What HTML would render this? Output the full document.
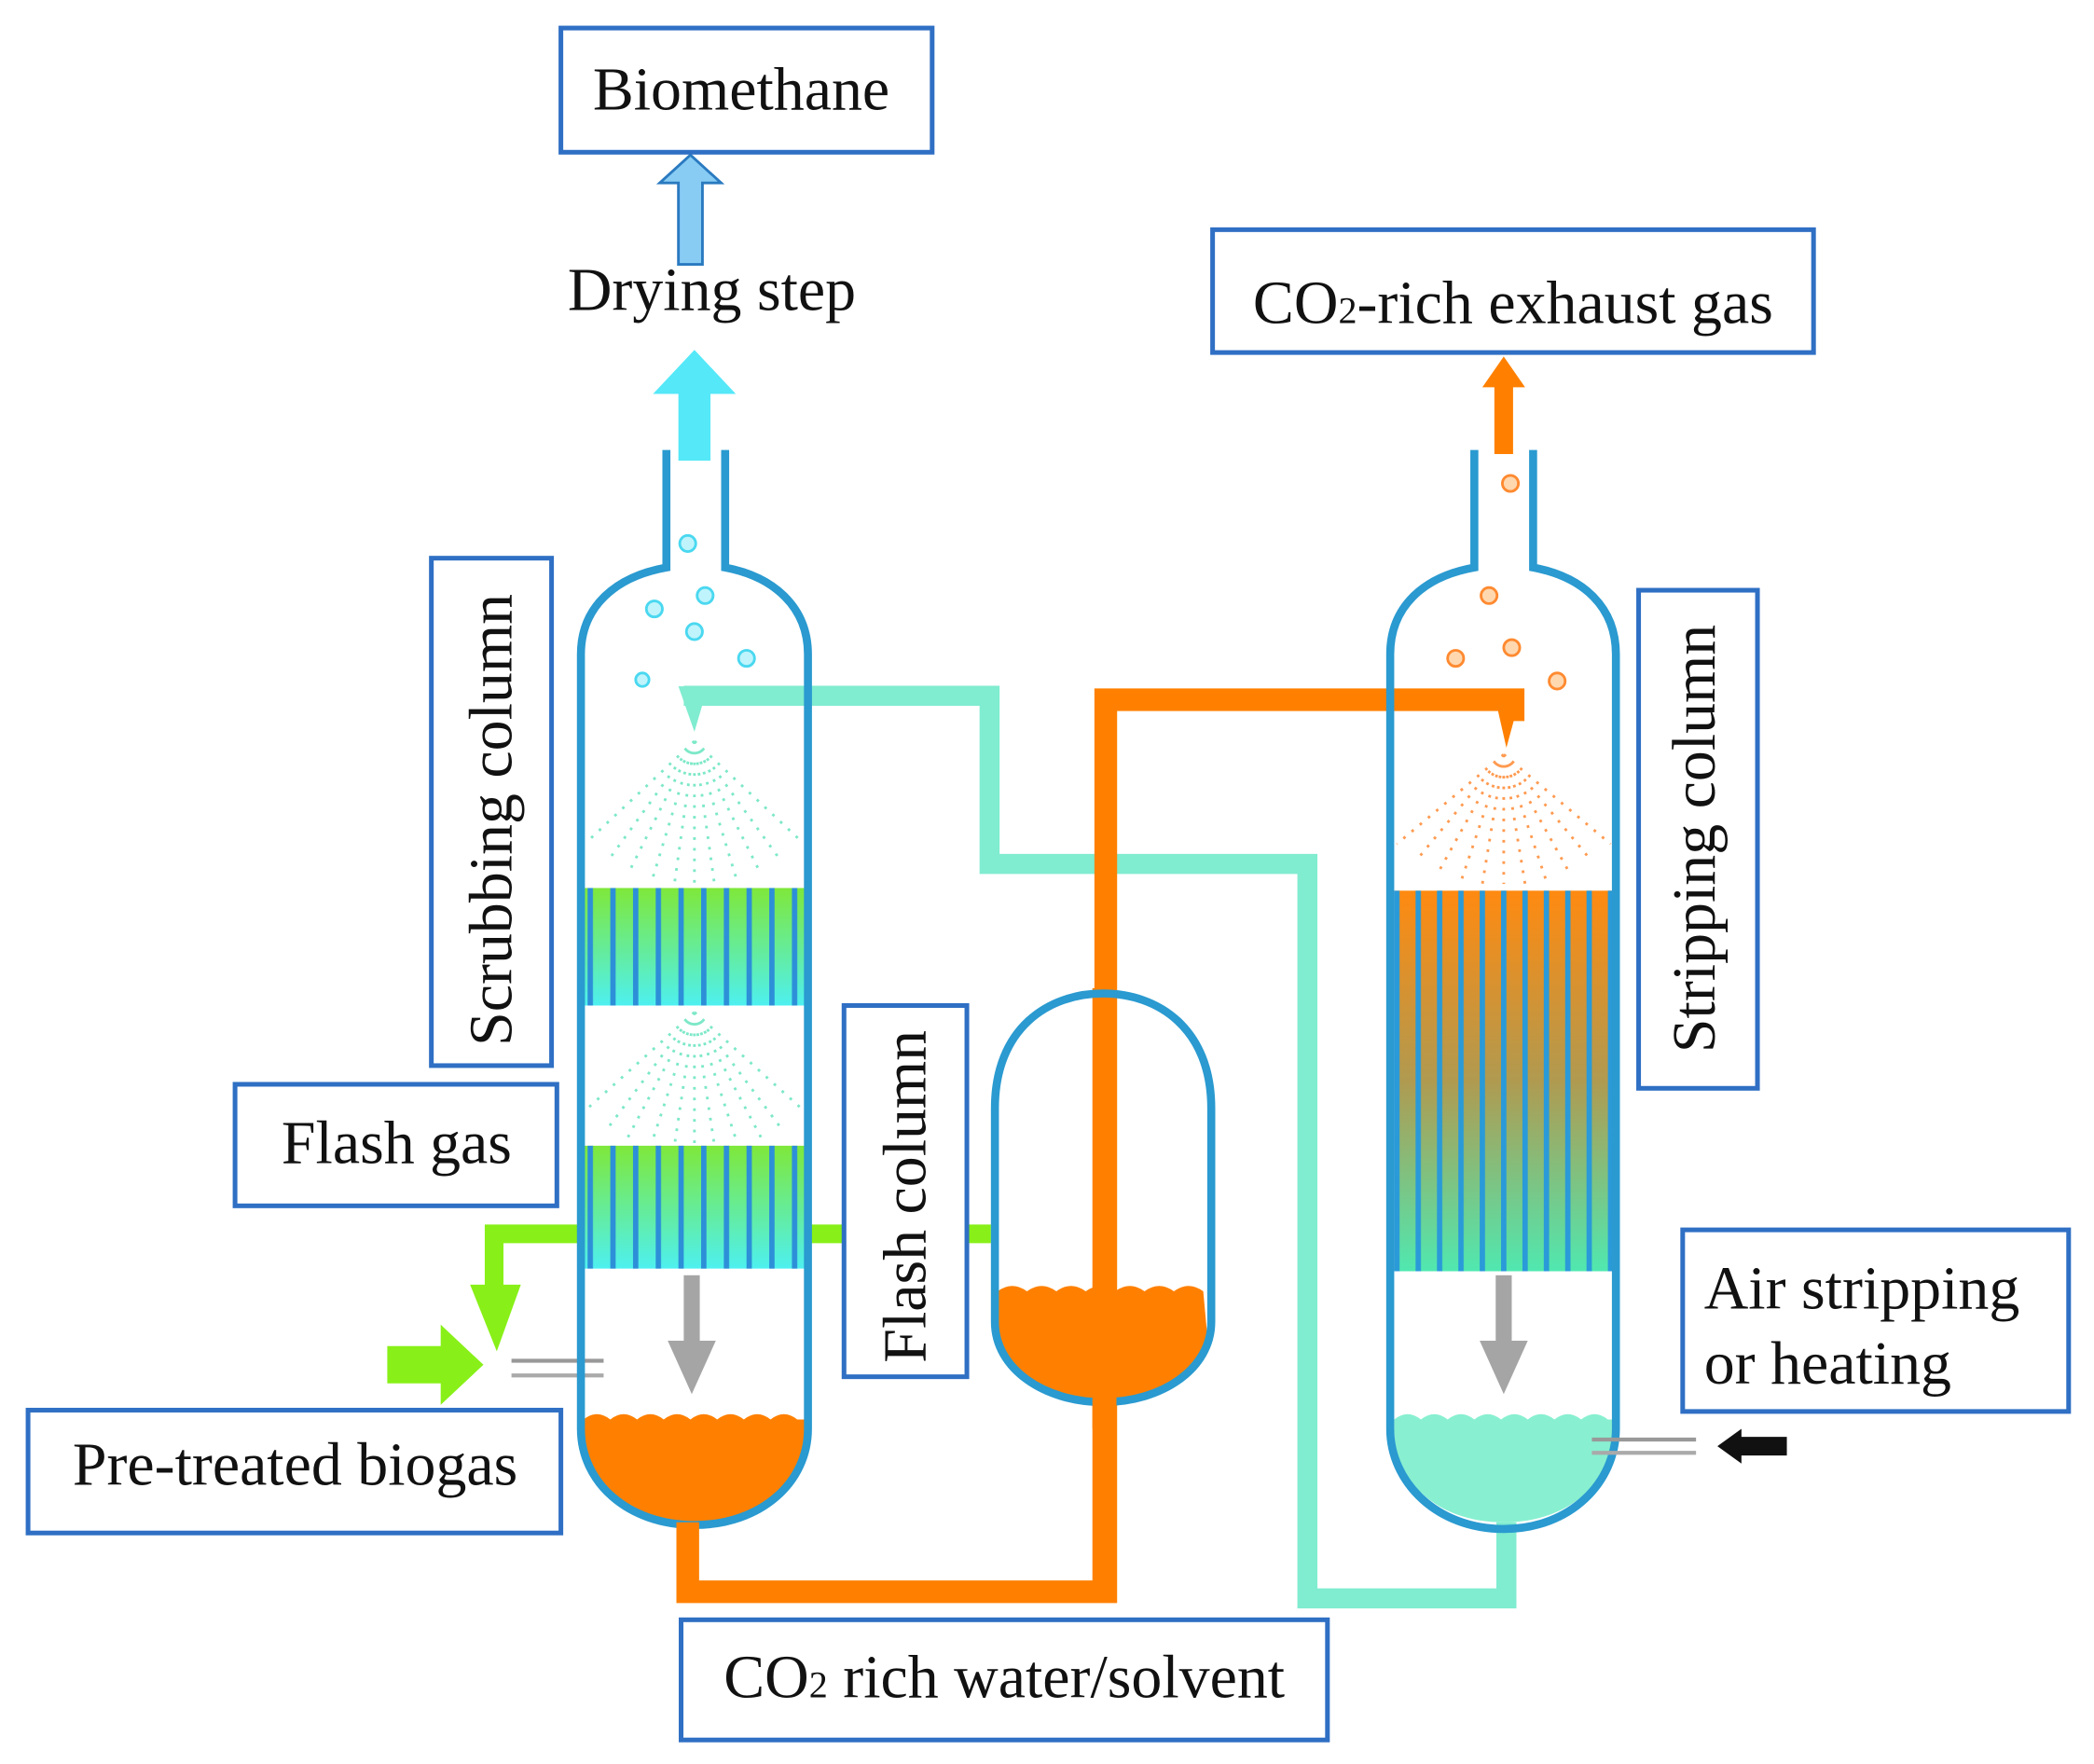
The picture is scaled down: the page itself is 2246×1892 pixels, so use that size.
<!DOCTYPE html>
<html><head><meta charset="utf-8"><style>
html,body{margin:0;padding:0;background:#fff}
svg{display:block}
text{font-family:"Liberation Serif",serif;fill:#111}
</style></head><body>
<svg width="2246" height="1892" viewBox="0 0 1568 1321" preserveAspectRatio="none" xmlns="http://www.w3.org/2000/svg">
<defs>
<linearGradient id="g2" x1="0" y1="0" x2="0" y2="1"><stop offset="0" stop-color="#7fe83a"/><stop offset="1" stop-color="#4ef0f0"/></linearGradient>
<linearGradient id="g3" x1="0" y1="0" x2="0" y2="1"><stop offset="0" stop-color="#ff8a10"/><stop offset="0.5" stop-color="#b09a50"/><stop offset="1" stop-color="#50e8b0"/></linearGradient>
<pattern id="st1" x="440" y="0" width="17" height="10" patternUnits="userSpaceOnUse"><rect x="0" y="0" width="4" height="10" fill="#2d8fd8"/></pattern>
<pattern id="st2" x="1044" y="0" width="16" height="10" patternUnits="userSpaceOnUse"><rect x="0" y="0" width="4" height="10" fill="#2a9ad8"/></pattern>
</defs>

<polyline points="742,924 370,924 370,975" fill="none" stroke="#88f018" stroke-width="14"/>
<polygon points="352,962 390,962 372,1012" fill="#88f018"/>
<polygon points="290,1008 330,1008 330,992 362,1022 330,1052 330,1036 290,1036" fill="#88f018"/>
<line x1="383" y1="1019" x2="452" y2="1019" stroke="#999" stroke-width="3"/>
<line x1="383" y1="1030" x2="452" y2="1030" stroke="#aaa" stroke-width="3"/>

<polyline points="512,521 741,521 741,647 979,647 979,1197 1128,1197 1128,1140" fill="none" stroke="#80ecd0" stroke-width="15"/>

<g>
<rect x="437" y="665" width="166" height="88" fill="url(#g2)"/>
<rect x="437" y="665" width="166" height="88" fill="url(#st1)"/>
<rect x="437" y="858" width="166" height="92" fill="url(#g2)"/>
<rect x="437" y="858" width="166" height="92" fill="url(#st1)"/>
<path d="M437,1063 q10,-8 20,0 q10,-8 20,0 q10,-8 20,0 q10,-8 20,0 q10,-8 20,0 q10,-8 20,0 q10,-8 20,0 q10,-8 20,0 l6,0 L603,1070 C603,1110 570,1140 520,1140 C470,1140 437,1110 437,1070 Z" fill="#ff8000"/>
<path d="M499,337 L499,425 C460,432 435,455 435,490 L435,1070 C435,1110 470,1142 520,1142 C570,1142 605,1110 605,1070 L605,490 C605,455 580,432 543,425 L543,337" fill="none" stroke="#2a9ad0" stroke-width="6"/>
</g>
<polyline points="515,1140 515,1192 828,1192 828,524 1133,524 1133,540" fill="none" stroke="#ff8000" stroke-width="17"/>
<polygon points="508,514 530,514 520,548" fill="#80ecd0"/>
<polygon points="1118,516 1140,516 1128,560" fill="#ff8000"/>

<g stroke="#7de8c8" stroke-width="2" stroke-dasharray="2,6" fill="none">
<path d="M520,555 L440,630 M520,555 L455,645 M520,555 L470,655 M520,555 L488,660 M520,555 L505,662 M520,555 L520,662 M520,555 L535,662 M520,555 L552,660 M520,555 L570,655 M520,555 L585,645 M520,555 L600,630"/>
<path d="M520,758 L440,830 M520,758 L455,845 M520,758 L470,852 M520,758 L488,856 M520,758 L505,858 M520,758 L520,858 M520,758 L535,858 M520,758 L552,856 M520,758 L570,852 M520,758 L585,845 M520,758 L600,830"/>
</g>
<g stroke="#ff9a50" stroke-width="2" stroke-dasharray="2,6" fill="none">
<path d="M1126,565 L1046,632 M1126,565 L1060,645 M1126,565 L1076,655 M1126,565 L1094,660 M1126,565 L1110,662 M1126,565 L1126,662 M1126,565 L1142,662 M1126,565 L1158,660 M1126,565 L1176,655 M1126,565 L1192,645 M1126,565 L1206,632"/>
</g>

<g fill="#bff4fc" stroke="#4ad8f0" stroke-width="2">
<circle cx="515" cy="407" r="6"/><circle cx="490" cy="456" r="6"/><circle cx="528" cy="446" r="6"/><circle cx="520" cy="473" r="6"/><circle cx="559" cy="493" r="6"/><circle cx="481" cy="509" r="5"/>
</g>
<g fill="#ffd8b0" stroke="#ff8a30" stroke-width="2">
<circle cx="1131" cy="362" r="6"/><circle cx="1115" cy="446" r="6"/><circle cx="1132" cy="485" r="6"/><circle cx="1090" cy="493" r="6"/><circle cx="1166" cy="510" r="6"/>
</g>

<rect x="512" y="955" width="12" height="52" fill="#a5a5a5"/><polygon points="500,1004 536,1004 518,1044" fill="#a5a5a5"/>
<rect x="1120" y="955" width="12" height="52" fill="#a5a5a5"/><polygon points="1108,1004 1144,1004 1126,1044" fill="#a5a5a5"/>

<rect x="1044" y="667" width="164" height="285" fill="url(#g3)"/>
<rect x="1044" y="667" width="164" height="285" fill="url(#st2)"/>
<path d="M1044,1063 q10,-8 20,0 q10,-8 20,0 q10,-8 20,0 q10,-8 20,0 q10,-8 20,0 q10,-8 20,0 q10,-8 20,0 q10,-8 20,0 l4,0 L1208,1070 C1208,1110 1175,1140 1126,1140 C1077,1140 1044,1110 1044,1070 Z" fill="#88f0d0"/>
<path d="M1104,337 L1104,425 C1065,432 1041,455 1041,490 L1041,1070 C1041,1110 1076,1145 1126,1145 C1176,1145 1210,1110 1210,1070 L1210,490 C1210,455 1186,432 1148,425 L1148,337" fill="none" stroke="#2a9ad0" stroke-width="6"/>
<line x1="1192" y1="1078" x2="1270" y2="1078" stroke="#999" stroke-width="3"/>
<line x1="1192" y1="1088" x2="1270" y2="1088" stroke="#aaa" stroke-width="3"/>
<polygon points="1338,1076 1304,1076 1304,1070 1286,1083 1304,1096 1304,1090 1338,1090" fill="#111"/>

<path d="M747,967 q11,-8 22,0 q11,-8 22,0 q11,-8 22,0 q11,-8 22,0 q11,-8 22,0 q11,-8 22,0 q11,-8 22,0 L904,1000 C904,1030 870,1050 826,1050 C782,1050 747,1030 747,1000 Z" fill="#ff8000"/>
<rect x="818" y="740" width="18" height="330" fill="#ff8000"/>
<path d="M745,830 C745,770 785,744 826,744 C867,744 907,770 907,830 L907,990 C907,1025 870,1050 826,1050 C782,1050 745,1025 745,990 Z" fill="none" stroke="#2a9ad0" stroke-width="6"/>
<rect x="818" y="1044" width="18" height="150" fill="#ff8000"/>

<polygon points="508,345 532,345 532,295 551,295 520,262 489,295 508,295" fill="#55e8f8"/>
<polygon points="508,198 526,198 526,137 540,137 517,116 494,137 508,137" fill="#88ccf4" stroke="#2a7ac0" stroke-width="2"/>
<polygon points="1119,340 1133,340 1133,290 1142,290 1126,267 1110,290 1119,290" fill="#ff8000"/>

<g fill="#fff" stroke="#2f6fc4" stroke-width="3.5">
<rect x="420" y="21" width="278" height="93"/>
<rect x="908" y="172" width="450" height="92"/>
<rect x="323" y="418" width="90" height="380"/>
<rect x="176" y="812" width="241" height="91"/>
<rect x="21" y="1056" width="399" height="92"/>
<rect x="632" y="753" width="92" height="278"/>
<rect x="510" y="1213" width="484" height="90"/>
<rect x="1227" y="442" width="89" height="373"/>
<rect x="1260" y="921" width="289" height="136"/>
</g>

<g font-size="46">
<text x="555" y="82" text-anchor="middle">Biomethane</text>
<text x="533" y="232" text-anchor="middle">Drying step</text>
<text x="1133" y="242" text-anchor="middle">CO<tspan font-size="28">2</tspan>-rich exhaust gas</text>
<text x="297" y="871" text-anchor="middle">Flash gas</text>
<text x="221" y="1112" text-anchor="middle">Pre-treated biogas</text>
<text x="752" y="1271" text-anchor="middle">CO<tspan font-size="28">2</tspan> rich water/solvent</text>
<text x="1276" y="980">Air stripping</text>
<text x="1276" y="1036">or heating</text>
<text transform="translate(383,614) rotate(-90)" text-anchor="middle">Scrubbing column</text>
<text transform="translate(693,896) rotate(-90)" text-anchor="middle">Flash column</text>
<text transform="translate(1284,628) rotate(-90)" text-anchor="middle">Stripping column</text>
</g>
</svg>
</body></html>
